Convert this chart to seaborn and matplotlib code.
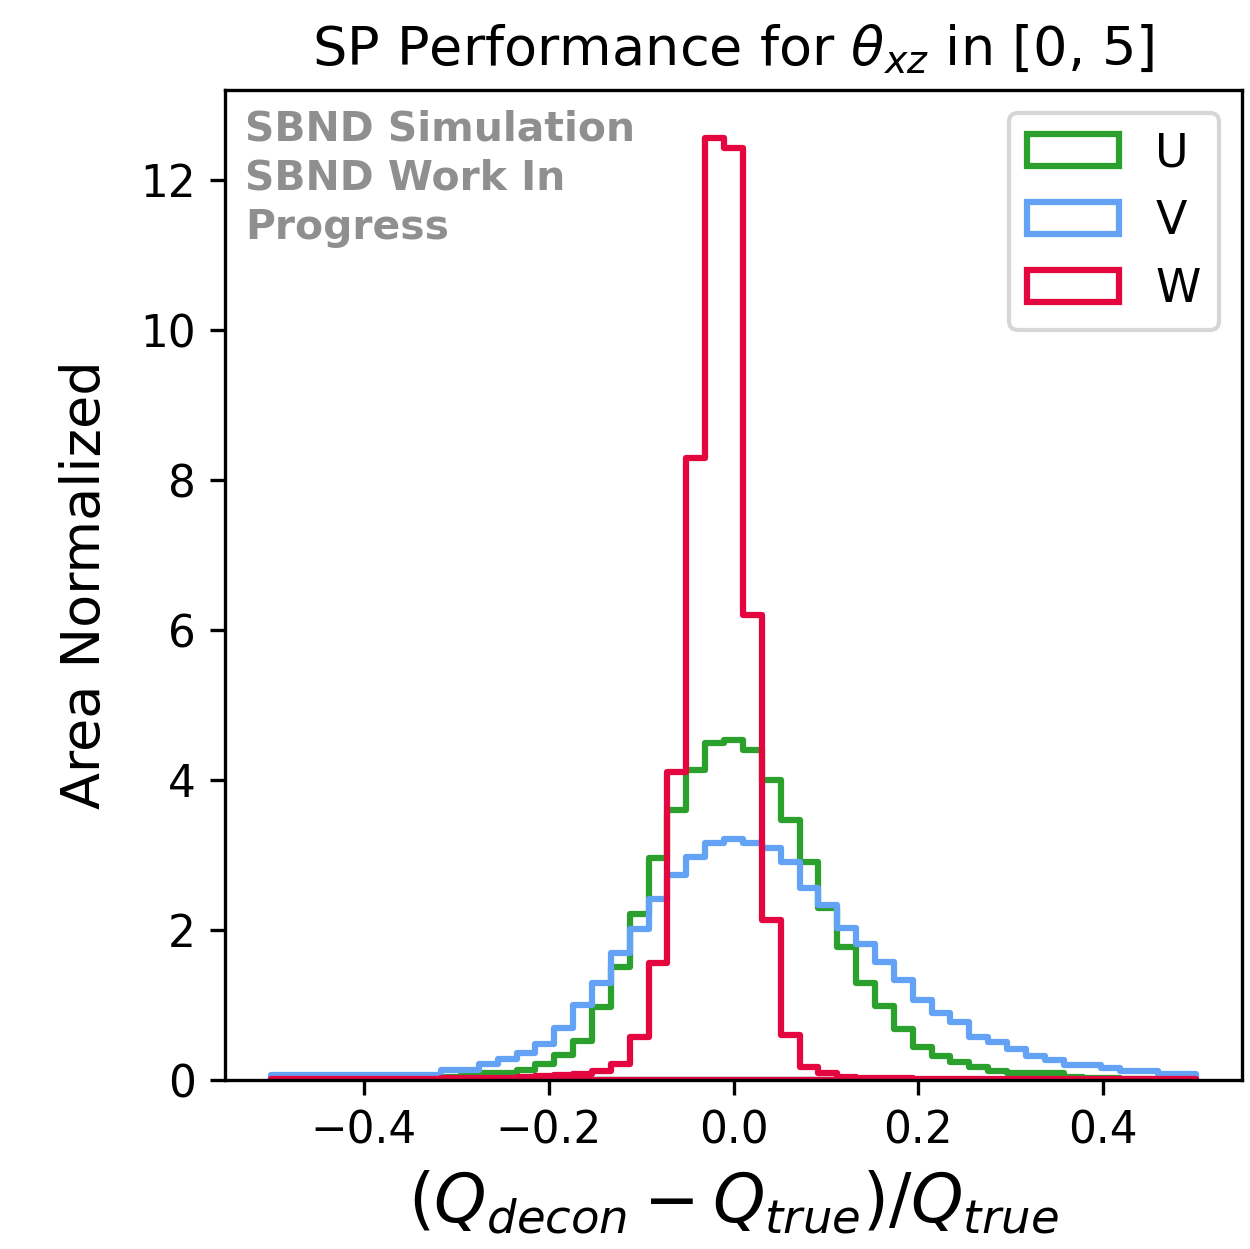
import numpy as np
import pandas as pd
import matplotlib
matplotlib.use("Agg")
import matplotlib.pyplot as plt
import seaborn as sns

# 49 bins over [-0.5, 0.5]
n_bins = 49
x_range = (-0.5, 0.5)
bin_edges = np.linspace(x_range[0], x_range[1], n_bins + 1)
bin_centers = 0.5 * (bin_edges[:-1] + bin_edges[1:])

# Area-normalised bin heights, one value per bin
u_heights = [0.02, 0.02, 0.02, 0.02, 0.02, 0.02, 0.03, 0.03, 0.03, 0.04,
             0.05, 0.09, 0.10, 0.13, 0.21, 0.33, 0.52, 0.98, 1.51, 2.22,
             2.96, 3.60, 4.13, 4.49, 4.53, 4.40, 4.00, 3.47, 2.91, 2.29,
             1.78, 1.29, 0.99, 0.68, 0.44, 0.32, 0.24, 0.17, 0.12, 0.10,
             0.09, 0.09, 0.04, 0.03, 0.03, 0.02, 0.02, 0.02, 0.02]
v_heights = [0.07, 0.07, 0.07, 0.07, 0.07, 0.07, 0.07, 0.07, 0.07, 0.13,
             0.13, 0.21, 0.28, 0.36, 0.48, 0.69, 1.00, 1.30, 1.69, 2.02,
             2.42, 2.73, 2.98, 3.16, 3.22, 3.16, 3.09, 2.91, 2.56, 2.33,
             2.03, 1.82, 1.57, 1.33, 1.07, 0.89, 0.78, 0.58, 0.51, 0.42,
             0.32, 0.27, 0.20, 0.20, 0.16, 0.12, 0.12, 0.08, 0.08]
w_heights = [0.02, 0.02, 0.02, 0.02, 0.02, 0.02, 0.02, 0.02, 0.02, 0.03,
             0.03, 0.03, 0.03, 0.04, 0.05, 0.07, 0.08, 0.12, 0.22, 0.58,
             1.56, 4.11, 8.29, 12.56, 12.43, 6.20, 2.13, 0.60, 0.18, 0.09,
             0.04, 0.03, 0.03, 0.03, 0.02, 0.02, 0.02, 0.02, 0.02, 0.02,
             0.02, 0.02, 0.02, 0.02, 0.02, 0.02, 0.02, 0.02, 0.02]

planes = ["U", "V", "W"]
plane_heights = [u_heights, v_heights, w_heights]
plane_colors = ["#2ca02c", "#64a2f5", "#e4073f"]

plt.rcParams["font.family"] = ["DejaVu Sans"]

fig = plt.figure(figsize=(1250 / 300, 1249 / 300), dpi=300)
ax = fig.add_axes([0.18, 0.1353, 0.8136, 0.7926])

for name, heights, color in zip(planes, plane_heights, plane_colors):
    df = pd.DataFrame({"center": bin_centers, "height": heights})
    sns.histplot(data=df, x="center", weights="height", bins=n_bins,
                 binrange=x_range, stat="count", element="step", fill=True,
                 color=color, facecolor="none", edgecolor=color,
                 linewidth=1.5, label=name, ax=ax)

ax.set_xlim(-0.55, 0.55)
ax.set_ylim(0, 13.2)
ax.set_xticks([-0.4, -0.2, 0.0, 0.2, 0.4])
ax.set_yticks([0, 2, 4, 6, 8, 10, 12])
ax.tick_params(labelsize=10.5)

ax.set_title(r"SP Performance for $\theta_{xz}$ in [0, 5]", fontsize=13)
ax.set_xlabel(r"$(Q_{decon} - Q_{true})/Q_{true}$", fontsize=16)
ax.set_ylabel("Area Normalized", fontsize=13, labelpad=7)

ax.text(0.02, 0.98, "SBND Simulation\nSBND Work In\nProgress",
        transform=ax.transAxes, ha="left", va="top", fontsize=9.8,
        fontweight="bold", color="#8f8f8f", linespacing=1.29)

ax.legend(loc="upper right", fontsize=11)

fig.savefig("out.png", dpi=300)
